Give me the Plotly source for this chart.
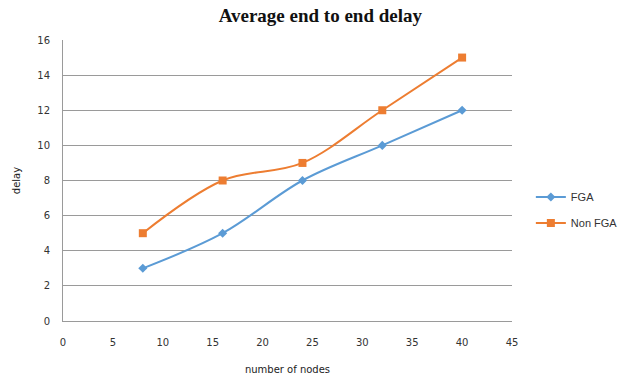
import plotly.graph_objects as go

# number of nodes and measured delay per scheme
nodes = [8, 16, 24, 32, 40]
fga_delay = [3, 5, 8, 10, 12]
non_fga_delay = [5, 8, 9, 12, 15]

x_ticks = [0, 5, 10, 15, 20, 25, 30, 35, 40, 45]
y_ticks = [0, 2, 4, 6, 8, 10, 12, 14, 16]

blue = "#5B9BD5"
orange = "#ED7D31"
tick_font = dict(family="DejaVu Sans, Verdana, sans-serif", size=10, color="#333333")

fig = go.Figure()
fig.add_trace(go.Scatter(
    x=nodes, y=fga_delay, name="FGA", mode="lines+markers", legendgroup="fga",
    line=dict(color=blue, width=2, shape="spline", smoothing=1.0),
    marker=dict(symbol="diamond", size=7, color=blue),
))
fig.add_trace(go.Scatter(
    x=nodes, y=non_fga_delay, name="Non FGA", mode="lines+markers", legendgroup="nonfga",
    line=dict(color=orange, width=2, shape="spline", smoothing=1.0),
    marker=dict(symbol="square", size=8, color=orange),
))

fig.update_layout(
    width=622, height=378,
    margin=dict(l=63, r=110, t=40, b=57, autoexpand=False),
    paper_bgcolor="white", plot_bgcolor="white",
    title=dict(
        text="<b>Average end to end delay</b>",
        x=0.515, xanchor="center", y=0.96, yanchor="middle",
        font=dict(family="Liberation Serif, Times New Roman, serif", size=19, color="#111111"),
    ),
    showlegend=True,
    legend=dict(
        x=1.042, y=0.395, xanchor="left", yanchor="middle",
        font=dict(family="Liberation Sans, Arial, sans-serif", size=11, color="#333333"),
        traceorder="grouped", tracegroupgap=7, itemwidth=30,
        bgcolor="rgba(0,0,0,0)",
    ),
    xaxis=dict(
        range=[0, 45], tickvals=x_ticks, showgrid=False, zeroline=False,
        showline=True, linecolor="#9a9a9a", linewidth=1,
        ticks="outside", ticklen=12, tickcolor="rgba(0,0,0,0)",
        tickfont=tick_font,
        title=dict(text="number of nodes", standoff=18,
                   font=dict(family="DejaVu Sans, Verdana, sans-serif", size=10, color="#222222")),
    ),
    yaxis=dict(
        range=[0, 16], tickvals=y_ticks, showgrid=True, gridcolor="#9a9a9a", gridwidth=1,
        zeroline=False, showline=True, linecolor="#9a9a9a", linewidth=1,
        ticks="outside", ticklen=10, tickcolor="rgba(0,0,0,0)",
        tickfont=tick_font,
        title=dict(text="delay", standoff=14,
                   font=dict(family="DejaVu Sans, Verdana, sans-serif", size=10, color="#222222")),
    ),
)

fig.write_html("out.html")
